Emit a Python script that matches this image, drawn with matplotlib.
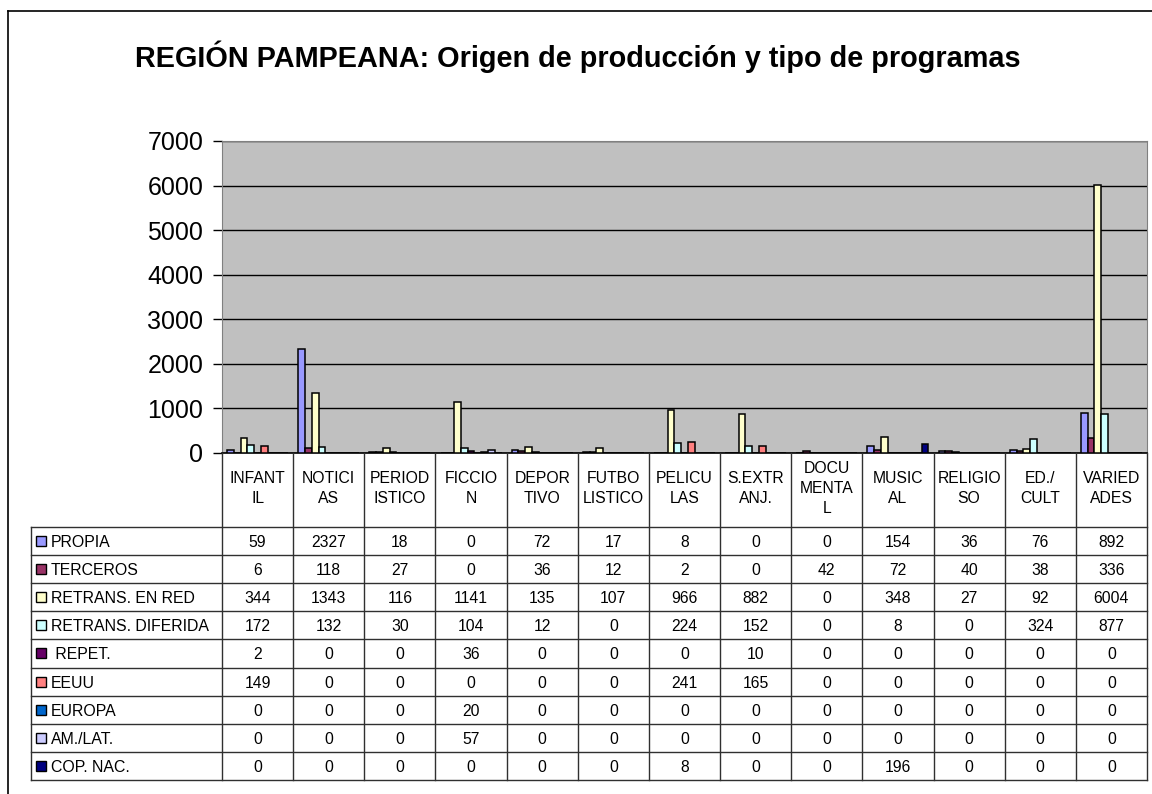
import matplotlib.pyplot as plt
from matplotlib.patches import Rectangle
from matplotlib.lines import Line2D
import numpy as np

plt.rcParams['font.family'] = ['Liberation Sans', 'DejaVu Sans']

categories = ["INFANT\nIL", "NOTICI\nAS", "PERIOD\nISTICO", "FICCIO\nN", "DEPOR\nTIVO",
              "FUTBO\nLISTICO", "PELICU\nLAS", "S.EXTR\nANJ.", "DOCU\nMENTA\nL",
              "MUSIC\nAL", "RELIGIO\nSO", "ED./\nCULT", "VARIED\nADES"]
series_names = ["PROPIA", "TERCEROS", "RETRANS. EN RED", "RETRANS. DIFERIDA", " REPET.",
                "EEUU", "EUROPA", "AM./LAT.", "COP. NAC."]
propia = [59, 2327, 18, 0, 72, 17, 8, 0, 0, 154, 36, 76, 892]
terceros = [6, 118, 27, 0, 36, 12, 2, 0, 42, 72, 40, 38, 336]
retrans_red = [344, 1343, 116, 1141, 135, 107, 966, 882, 0, 348, 27, 92, 6004]
retrans_dif = [172, 132, 30, 104, 12, 0, 224, 152, 0, 8, 0, 324, 877]
repet = [2, 0, 0, 36, 0, 0, 0, 10, 0, 0, 0, 0, 0]
eeuu = [149, 0, 0, 0, 0, 0, 241, 165, 0, 0, 0, 0, 0]
europa = [0, 0, 0, 20, 0, 0, 0, 0, 0, 0, 0, 0, 0]
am_lat = [0, 0, 0, 57, 0, 0, 0, 0, 0, 0, 0, 0, 0]
cop_nac = [0, 0, 0, 0, 0, 0, 8, 0, 0, 196, 0, 0, 0]
colors = ["#9999FF", "#993366", "#FFFFCC", "#CCFFFF", "#660066",
          "#FF8080", "#0066CC", "#CCCCFF", "#000080"]

series = [propia, terceros, retrans_red, retrans_dif, repet, eeuu, europa, am_lat, cop_nac]

W, H = 1152, 794
fig = plt.figure(figsize=(W / 100, H / 100), dpi=100)

# pixel layout of the excel chart
left, right, top, zero = 222, 1147, 141, 453
tleft, ttop, tbottom = 31, 527, 780
colw = (right - left) / len(categories)

ax = fig.add_axes([left / W, 1 - zero / H, (right - left) / W, (zero - top) / H])
ax.set_facecolor("#C0C0C0")
x = np.arange(len(categories)) + 0.5
bw = 1 / 10.5
for j, vals in enumerate(series):
    ax.bar(x + (j - 4) * bw, vals, bw, color=colors[j], edgecolor="black", linewidth=1.1, zorder=3)

ax.set_xlim(0, len(categories))
ax.set_ylim(0, 7000)
ax.set_yticks(range(0, 7001, 1000))
ax.yaxis.grid(True, color="black", linewidth=1.0, zorder=1)
ax.set_xticks([])
ax.tick_params(axis="y", labelsize=18, length=6.5, width=1, pad=7)
for s in ["top", "right", "left"]:
    ax.spines[s].set_color("#808080")
ax.spines["bottom"].set_color("black")
ax.spines["bottom"].set_linewidth(1.2)

# data table below the plot
tax = fig.add_axes([tleft / W, 1 - tbottom / H, (right - tleft) / W, (tbottom - zero) / H])
tax.set_axis_off()
rowh = (tbottom - ttop) / len(series)
hdr = (ttop - zero) / rowh
tax.set_xlim(-(left - tleft) / colw, len(categories))
tax.set_ylim(len(series), -hdr)
lc = "#303030"
for i in range(len(categories) + 1):
    tax.plot([i, i], [-hdr, len(series)], color=lc, lw=1, clip_on=False)
tax.plot([-(left - tleft) / colw] * 2, [0, len(series)], color=lc, lw=1, clip_on=False)
for r in range(len(series) + 1):
    tax.plot([-(left - tleft) / colw, len(categories)], [r, r], color=lc, lw=1, clip_on=False)

for i, c in enumerate(categories):
    tax.text(i + 0.5, -hdr / 2 - 0.06, c, ha="center", va="center", fontsize=11.3, linespacing=1.4)

for r, vals in enumerate(series):
    for i, v in enumerate(vals):
        tax.text(i + 0.5, r + 0.55, str(v), ha="center", va="center", fontsize=11.3)
    sx = -(left - 36) / colw
    tax.add_patch(Rectangle((sx, r + 0.32), 10 / colw, 10 / rowh, facecolor=colors[r],
                            edgecolor="black", lw=1, clip_on=False))
    tax.text(-(left - 51) / colw, r + 0.55, series_names[r], ha="left", va="center", fontsize=11.4)

fig.text(578 / W, 1 - 57 / H, "REGIÓN PAMPEANA: Origen de producción y tipo de programas",
         ha="center", va="center", fontsize=20.8, fontweight="bold")

# chart area frame (top and left edges visible)
fig.add_artist(Line2D([8 / W, 1], [1 - 11 / H, 1 - 11 / H], transform=fig.transFigure, color="black", lw=1.2))
fig.add_artist(Line2D([8 / W, 8 / W], [0, 1 - 11 / H], transform=fig.transFigure, color="black", lw=1.2))

plt.savefig("out.png", dpi=100)
